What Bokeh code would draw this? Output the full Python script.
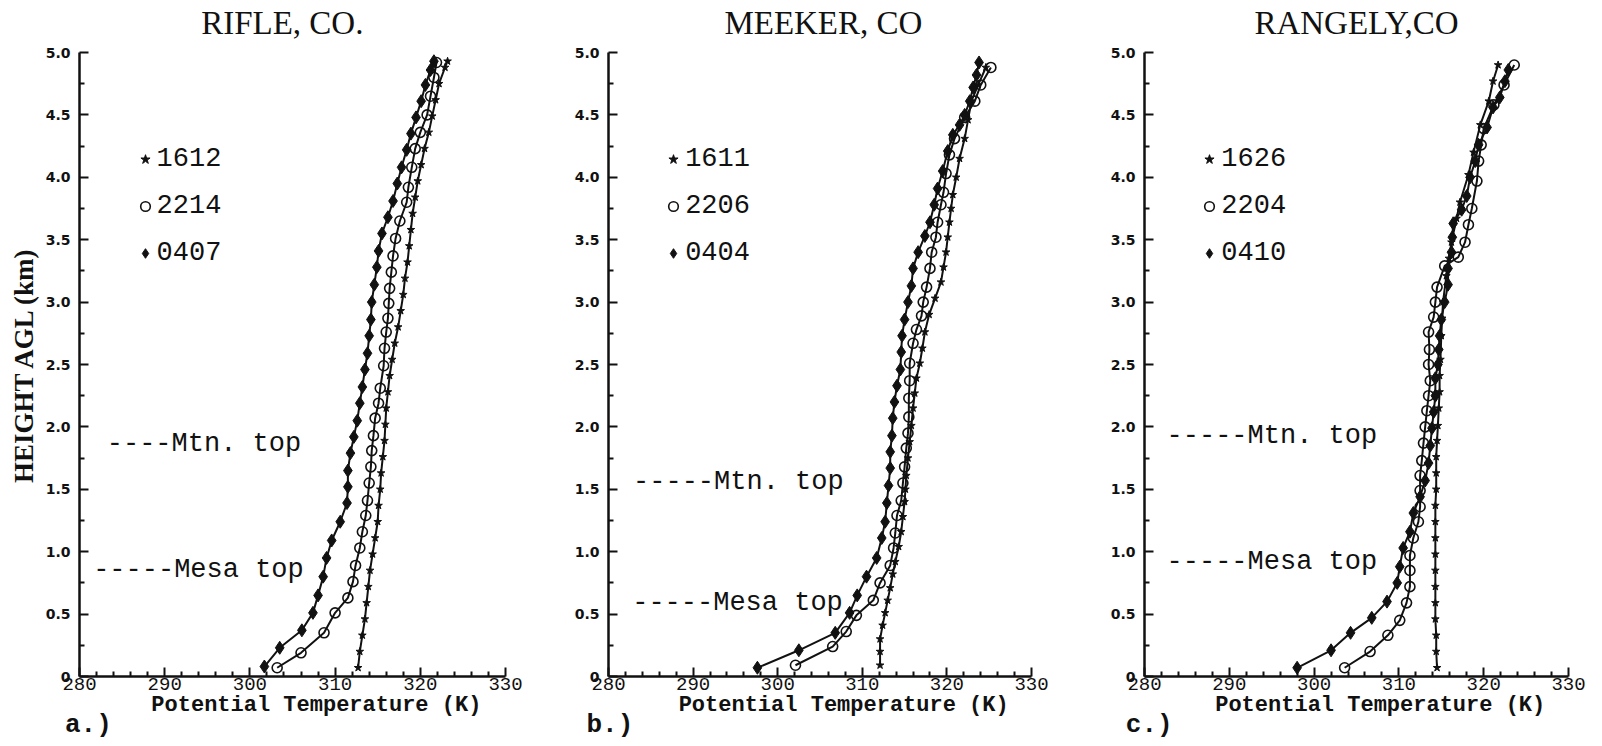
from bokeh.plotting import figure
from bokeh.layouts import row
from bokeh.models import Range1d, FixedTicker, Label, Legend, LegendItem, CustomJSTickFormatter
from bokeh.embed import file_html
from bokeh.resources import INLINE

# ---------------- axis ticks ----------------
x_ticks = [280, 290, 300, 310, 320, 330]
x_minor = [282, 284, 286, 288, 292, 294, 296, 298, 302, 304, 306, 308,
           312, 314, 316, 318, 322, 324, 326, 328]
y_ticks = [0, 0.5, 1.0, 1.5, 2.0, 2.5, 3.0, 3.5, 4.0, 4.5, 5.0]
y_minor = [0.25, 0.75, 1.25, 1.75, 2.25, 2.75, 3.25, 3.75, 4.25, 4.75]

# ---------------- a.) RIFLE, CO. ----------------
rifle_times = ["1612", "2214", "0407"]
rifle_star_h = [0.07, 0.20, 0.33, 0.46, 0.59, 0.72, 0.85, 0.98, 1.11, 1.24, 1.37, 1.50, 1.63,
                1.76, 1.89, 2.02, 2.15, 2.28, 2.41, 2.54, 2.67, 2.80, 2.93, 3.06, 3.19, 3.32,
                3.45, 3.58, 3.71, 3.84, 3.97, 4.10, 4.23, 4.36, 4.49, 4.62, 4.75, 4.88, 4.93]
rifle_star_t = [312.7, 312.9, 313.2, 313.5, 313.7, 313.9, 314.1, 314.4, 314.7, 315.0, 315.1, 315.3, 315.4,
                315.6, 315.8, 315.9, 316.0, 316.2, 316.4, 316.7, 317.0, 317.4, 317.7, 318.0, 318.2, 318.5,
                318.7, 318.9, 319.1, 319.4, 319.7, 320.1, 320.5, 321.0, 321.4, 321.8, 322.2, 322.9, 323.2]
rifle_circ_h = [0.07, 0.19, 0.35, 0.51, 0.63, 0.76, 0.89, 1.03, 1.16, 1.29, 1.41, 1.55, 1.68,
                1.81, 1.93, 2.07, 2.19, 2.31, 2.49, 2.63, 2.76, 2.87, 2.99, 3.11, 3.24, 3.37,
                3.51, 3.65, 3.80, 3.92, 4.08, 4.23, 4.36, 4.50, 4.65, 4.80, 4.92]
rifle_circ_t = [303.2, 306.0, 308.7, 310.0, 311.5, 312.1, 312.4, 312.9, 313.2, 313.6, 313.8, 314.0, 314.2,
                314.3, 314.5, 314.7, 315.1, 315.3, 315.7, 315.8, 316.0, 316.2, 316.3, 316.4, 316.6, 316.8,
                317.1, 317.6, 318.4, 318.6, 319.0, 319.4, 320.0, 320.8, 321.2, 321.6, 321.9]
rifle_diam_h = [0.08, 0.23, 0.37, 0.51, 0.65, 0.80, 0.95, 1.09, 1.24, 1.39, 1.52, 1.65, 1.79,
                1.92, 2.05, 2.19, 2.32, 2.46, 2.59, 2.73, 2.86, 3.00, 3.14, 3.28, 3.41, 3.55,
                3.68, 3.81, 3.95, 4.08, 4.22, 4.35, 4.48, 4.61, 4.74, 4.86, 4.93]
rifle_diam_t = [301.7, 303.5, 306.1, 307.4, 308.0, 308.6, 309.0, 309.6, 310.6, 311.4, 311.5, 311.5, 311.8,
                312.2, 312.6, 312.9, 313.2, 313.5, 313.8, 314.0, 314.2, 314.3, 314.6, 314.9, 315.1, 315.5,
                316.2, 316.8, 317.3, 317.8, 318.4, 318.9, 319.5, 320.1, 320.6, 321.2, 321.6]

# ---------------- b.) MEEKER, CO ----------------
meeker_times = ["1611", "2206", "0404"]
meeker_star_h = [0.09, 0.20, 0.30, 0.41, 0.51, 0.61, 0.71, 0.82, 0.92, 1.04, 1.16, 1.28, 1.40, 1.50,
                 1.61, 1.75, 1.88, 2.01, 2.15, 2.27, 2.39, 2.51, 2.63, 2.76, 2.90, 3.03, 3.16, 3.28,
                 3.40, 3.52, 3.64, 3.75, 3.86, 4.00, 4.15, 4.31, 4.46, 4.61, 4.74, 4.88]
meeker_star_t = [312.1, 312.1, 312.1, 312.4, 312.7, 313.0, 313.3, 313.6, 313.9, 314.3, 314.6, 314.8, 315.0, 315.1,
                 315.2, 315.4, 315.6, 315.8, 316.0, 316.2, 316.4, 316.8, 317.1, 317.4, 317.9, 318.6, 319.3, 319.6,
                 319.9, 320.1, 320.3, 320.5, 320.7, 321.1, 321.5, 322.1, 322.5, 322.9, 323.7, 324.6]
meeker_circ_h = [0.09, 0.24, 0.36, 0.49, 0.61, 0.75, 0.89, 1.03, 1.15, 1.29, 1.41, 1.55, 1.68, 1.83,
                 1.95, 2.08, 2.23, 2.37, 2.51, 2.67, 2.78, 2.89, 3.00, 3.12, 3.27, 3.40, 3.52, 3.64,
                 3.78, 3.88, 4.03, 4.18, 4.31, 4.48, 4.61, 4.74, 4.88]
meeker_circ_t = [302.1, 306.5, 308.1, 309.3, 311.3, 312.1, 313.3, 313.7, 313.9, 314.1, 314.6, 314.8, 315.0, 315.2,
                 315.4, 315.5, 315.5, 315.6, 315.6, 316.0, 316.4, 317.0, 317.2, 317.6, 318.0, 318.2, 318.7, 318.9,
                 319.3, 319.6, 319.9, 320.3, 320.9, 322.1, 323.3, 324.0, 325.2]
meeker_diam_h = [0.07, 0.21, 0.35, 0.51, 0.65, 0.80, 0.95, 1.11, 1.24, 1.39, 1.53, 1.67, 1.80, 1.93,
                 2.07, 2.20, 2.33, 2.46, 2.60, 2.73, 2.86, 3.00, 3.13, 3.27, 3.40, 3.53, 3.64, 3.78,
                 3.91, 4.05, 4.21, 4.34, 4.42, 4.50, 4.61, 4.72, 4.82, 4.92]
meeker_diam_t = [297.6, 302.5, 306.8, 308.5, 309.4, 310.5, 311.7, 312.3, 312.7, 312.9, 313.1, 313.3, 313.3, 313.5,
                 313.6, 313.8, 314.1, 314.5, 314.6, 314.7, 315.0, 315.4, 315.8, 316.0, 316.6, 317.4, 318.0, 318.5,
                 318.9, 319.5, 320.1, 320.7, 321.5, 322.1, 322.7, 323.1, 323.5, 323.8]

# ---------------- c.) RANGELY,CO ----------------
rangely_times = ["1626", "2204", "0410"]
rangely_star_h = [0.07, 0.20, 0.33, 0.46, 0.59, 0.72, 0.85, 0.98, 1.11, 1.24, 1.37, 1.50, 1.63, 1.76,
                  1.89, 2.01, 2.15, 2.28, 2.41, 2.54, 2.73, 2.87, 3.00, 3.21, 3.35, 3.48, 3.67, 3.80,
                  4.02, 4.20, 4.42, 4.61, 4.77, 4.90]
rangely_star_t = [314.5, 314.4, 314.4, 314.3, 314.3, 314.3, 314.3, 314.3, 314.3, 314.3, 314.3, 314.4, 314.4, 314.4,
                  314.5, 314.6, 314.7, 314.8, 314.8, 314.9, 315.0, 315.1, 315.2, 315.6, 315.9, 316.2, 316.8, 317.2,
                  318.2, 318.8, 319.6, 320.6, 321.1, 321.7]
rangely_circ_h = [0.07, 0.20, 0.33, 0.45, 0.59, 0.72, 0.85, 0.97, 1.11, 1.24, 1.36, 1.49, 1.61, 1.73,
                  1.87, 2.00, 2.13, 2.25, 2.37, 2.50, 2.62, 2.76, 2.88, 3.00, 3.12, 3.29, 3.36, 3.48,
                  3.62, 3.75, 3.97, 4.13, 4.26, 4.39, 4.58, 4.74, 4.90]
rangely_circ_t = [303.6, 306.6, 308.7, 310.1, 310.9, 311.3, 311.3, 311.3, 311.7, 312.3, 312.5, 312.5, 312.5, 312.7,
                  312.9, 313.1, 313.3, 313.5, 313.7, 313.5, 313.6, 313.5, 314.1, 314.3, 314.5, 315.4, 317.0, 317.8,
                  318.2, 318.6, 319.2, 319.4, 319.7, 320.0, 321.2, 322.4, 323.6]
rangely_diam_h = [0.07, 0.21, 0.35, 0.47, 0.60, 0.75, 0.88, 1.03, 1.16, 1.31, 1.44, 1.57, 1.71, 1.85,
                  1.99, 2.12, 2.25, 2.39, 2.50, 2.62, 2.73, 2.86, 3.00, 3.14, 3.27, 3.40, 3.52, 3.63,
                  3.74, 3.85, 4.00, 4.13, 4.26, 4.40, 4.56, 4.64, 4.77, 4.86]
rangely_diam_t = [298.0, 302.0, 304.3, 306.8, 308.6, 309.8, 310.1, 310.5, 311.3, 311.7, 312.5, 313.1, 313.5, 313.7,
                  313.9, 314.1, 314.3, 314.3, 314.6, 314.7, 314.8, 315.0, 315.4, 315.8, 315.8, 316.2, 316.3, 316.4,
                  317.4, 318.0, 318.4, 319.0, 319.4, 320.4, 321.1, 321.9, 322.5, 322.9]

TXT_MONO = "Liberation Mono"
INK = "#111111"
H = 746
Y0_PX, Y5_PX = 676, 52          # pixel rows of 0 km and 5 km
PPKM = (Y0_PX - Y5_PX) / 5.0


def make_panel(width, x280_px, x330_px, title, title_x, series, times, mtn, mesa, tag, tag_x, ylabel=None):
    ppk = (x330_px - x280_px) / 50.0
    x_lo = 280 - x280_px / ppk
    x_hi = 330 + (width - x330_px) / ppk
    y_lo = 0 - (H - Y0_PX) / PPKM
    y_hi = 5.0 + Y5_PX / PPKM
    p = figure(width=width, height=H, output_backend="svg", toolbar_location=None,
               x_range=Range1d(x_lo, x_hi), y_range=Range1d(y_lo, y_hi), title=None,
               min_border=0, min_border_left=0, min_border_right=0, min_border_top=0,
               min_border_bottom=0, background_fill_color="white", border_fill_color="white")
    p.outline_line_color = None
    p.xgrid.visible = False
    p.ygrid.visible = False

    xa = p.xaxis[0]
    xa.fixed_location = 0
    xa.bounds = (280, 330)
    xa.ticker = FixedTicker(ticks=x_ticks, minor_ticks=x_minor)
    ya = p.yaxis[0]
    ya.fixed_location = 280
    ya.bounds = (0, 5.0)
    ya.ticker = FixedTicker(ticks=y_ticks, minor_ticks=y_minor)
    ya.formatter = CustomJSTickFormatter(code="return tick == 0 ? '0' : tick.toFixed(1);")
    for ax in (xa, ya):
        ax.axis_line_width = 2.5
        ax.axis_line_color = INK
        ax.major_tick_in = 9
        ax.major_tick_out = 0
        ax.minor_tick_in = 5
        ax.minor_tick_out = 0
        ax.major_tick_line_width = 2
        ax.minor_tick_line_width = 2
        ax.major_tick_line_color = INK
        ax.minor_tick_line_color = INK
    xa.major_label_text_font = TXT_MONO
    xa.major_label_text_font_size = "19px"
    xa.major_label_text_color = INK
    xa.major_label_standoff = 1
    ya.major_label_text_font = "DejaVu Sans"
    ya.major_label_text_font_style = "bold"
    ya.major_label_text_font_size = "14px"
    ya.major_label_text_color = INK
    ya.major_label_standoff = 9
    if ylabel:
        ya.axis_label = ylabel
        ya.axis_label_text_font = "Liberation Serif"
        ya.axis_label_text_font_style = "bold"
        ya.axis_label_text_font_size = "27px"
        ya.axis_label_text_color = INK
        ya.axis_label_standoff = 4

    (st, sh), (ct, ch), (dt, dh) = series
    for t, h in series:
        p.line(t, h, line_color=INK, line_width=2)
    r_star = p.scatter(st, sh, marker="star", size=8, fill_color=INK, line_color=INK)
    r_circ = p.scatter(ct, ch, marker="circle", size=10, fill_color=None, line_color=INK, line_width=1.6)
    r_diam = p.scatter(dt, dh, marker="diamond", size=13, fill_color=INK, line_color=INK)

    # legend block: glyph centre at T=legend_t, first row at 4.14 km, rows 47 px apart
    legend_t = 287.7
    glyph_w, glyph_h, gap = 24, 30, 17
    gx = x280_px + (legend_t - 280) * ppk - glyph_w / 2
    top_px = Y0_PX - 4.14 * PPKM - glyph_h / 2
    leg_h = 3 * glyph_h + 2 * gap
    legend = Legend(items=[LegendItem(label=times[0], renderers=[r_star]),
                           LegendItem(label=times[1], renderers=[r_circ]),
                           LegendItem(label=times[2], renderers=[r_diam])],
                    location=(gx, H - top_px - leg_h), orientation="vertical",
                    label_text_font=TXT_MONO, label_text_font_size="27px", label_text_color=INK,
                    glyph_width=glyph_w, glyph_height=glyph_h, label_height=glyph_h, label_standoff=0,
                    spacing=gap, padding=0, margin=0, border_line_color=None,
                    background_fill_alpha=0)
    p.add_layout(legend, "center")

    p.add_layout(Label(x=title_x, y=5.24, text=title, text_align="center", text_baseline="middle",
                       text_font="Liberation Serif", text_font_size="33px", text_color=INK))
    for (txt, tx, ty) in (mtn, mesa):
        p.add_layout(Label(x=tx, y=ty, text=txt, text_align="left", text_baseline="middle",
                           text_font=TXT_MONO, text_font_size="27px", text_color=INK))
    p.add_layout(Label(x=307.8, y=-0.23, text="Potential Temperature (K)", text_align="center",
                       text_baseline="middle", text_font=TXT_MONO, text_font_style="bold",
                       text_font_size="22px", text_color=INK))
    p.add_layout(Label(x=tag_x, y=-0.39, text=tag, text_align="left", text_baseline="middle",
                       text_font=TXT_MONO, text_font_style="bold", text_font_size="26px", text_color=INK))
    return p


pa = make_panel(555, 79, 505, "RIFLE, CO.", 303.8,
                [(rifle_star_t, rifle_star_h), (rifle_circ_t, rifle_circ_h), (rifle_diam_t, rifle_diam_h)],
                rifle_times, ("----Mtn. top", 283.2, 1.86), ("-----Mesa top", 281.6, 0.85),
                "a.)", 278.3, ylabel="HEIGHT AGL (km)")
pb = make_panel(535, 53, 476, "MEEKER, CO", 305.4,
                [(meeker_star_t, meeker_star_h), (meeker_circ_t, meeker_circ_h), (meeker_diam_t, meeker_diam_h)],
                meeker_times, ("-----Mtn. top", 282.9, 1.56), ("-----Mesa top", 282.8, 0.59),
                "b.)", 277.4)
pc = make_panel(512, 54, 478, "RANGELY,CO", 305.0,
                [(rangely_star_t, rangely_star_h), (rangely_circ_t, rangely_circ_h), (rangely_diam_t, rangely_diam_h)],
                rangely_times, ("-----Mtn. top", 282.6, 1.93), ("-----Mesa top", 282.6, 0.92),
                "c.)", 277.8)

layout = row(pa, pb, pc)
open("out.html", "w").write(file_html(layout, INLINE))
